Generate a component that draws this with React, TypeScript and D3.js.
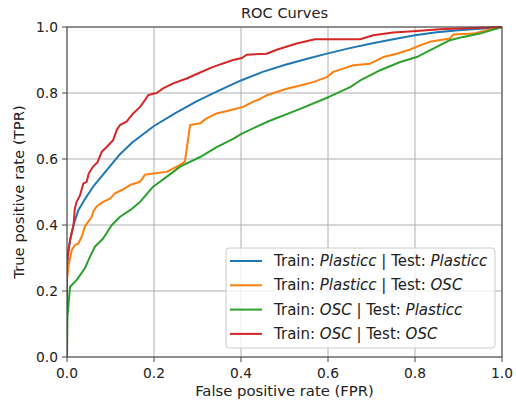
import React from 'react';
import * as d3 from 'd3';

// ROC points: [fpr, tpr]
const plasticcPlasticc: [number, number][] = [
  [0, 0], [0, 0.28], [0.004, 0.33], [0.008, 0.36], [0.015, 0.40], [0.026, 0.445], [0.04, 0.476],
  [0.06, 0.516], [0.08, 0.548], [0.1, 0.58], [0.12, 0.612], [0.15, 0.65], [0.2, 0.70],
  [0.25, 0.74], [0.3, 0.776], [0.35, 0.808], [0.4, 0.838], [0.45, 0.864], [0.5, 0.885],
  [0.55, 0.903], [0.6, 0.92], [0.65, 0.936], [0.7, 0.95], [0.75, 0.963], [0.8, 0.975],
  [0.85, 0.984], [0.9, 0.99], [0.95, 0.995], [1, 1]
];

const plasticcOsc: [number, number][] = [
  [0, 0], [0, 0.233], [0.003, 0.274], [0.011, 0.324], [0.018, 0.339], [0.026, 0.344],
  [0.034, 0.365], [0.041, 0.395], [0.049, 0.41], [0.057, 0.425], [0.06, 0.44], [0.068, 0.456],
  [0.083, 0.47], [0.099, 0.48], [0.11, 0.496], [0.126, 0.506], [0.145, 0.521], [0.168, 0.531],
  [0.179, 0.552], [0.198, 0.556], [0.229, 0.561], [0.26, 0.582], [0.271, 0.592], [0.283, 0.703],
  [0.306, 0.708], [0.321, 0.723], [0.344, 0.738], [0.375, 0.748], [0.405, 0.758], [0.428, 0.774],
  [0.444, 0.782], [0.459, 0.793], [0.482, 0.803], [0.505, 0.813], [0.536, 0.823], [0.566, 0.833],
  [0.597, 0.848], [0.612, 0.864], [0.635, 0.874], [0.658, 0.884], [0.697, 0.889], [0.727, 0.909],
  [0.758, 0.919], [0.789, 0.932], [0.811, 0.944], [0.834, 0.955], [0.88, 0.965], [0.888, 0.977],
  [0.934, 0.98], [0.965, 0.99], [1, 1]
];

const oscPlasticc: [number, number][] = [
  [0, 0], [0.001, 0.122], [0.007, 0.213], [0.022, 0.233], [0.041, 0.269], [0.053, 0.304],
  [0.064, 0.334], [0.083, 0.359], [0.103, 0.40], [0.122, 0.425], [0.145, 0.445], [0.168, 0.47],
  [0.198, 0.516], [0.229, 0.546], [0.26, 0.577], [0.306, 0.606], [0.344, 0.636], [0.382, 0.661],
  [0.402, 0.677], [0.459, 0.712], [0.536, 0.752], [0.602, 0.788], [0.651, 0.818], [0.674, 0.838],
  [0.72, 0.869], [0.766, 0.894], [0.804, 0.909], [0.834, 0.929], [0.88, 0.96], [0.911, 0.97],
  [0.949, 0.98], [1, 1]
];

const oscOsc: [number, number][] = [
  [0, 0], [0, 0.28], [0.003, 0.32], [0.008, 0.36], [0.015, 0.40], [0.018, 0.45], [0.022, 0.47],
  [0.03, 0.49], [0.0375, 0.526], [0.045, 0.53], [0.05, 0.556], [0.06, 0.577], [0.07, 0.59],
  [0.08, 0.622], [0.09, 0.635], [0.106, 0.657], [0.115, 0.69], [0.122, 0.703], [0.137, 0.713],
  [0.152, 0.738], [0.168, 0.758], [0.18, 0.78], [0.187, 0.794], [0.206, 0.80], [0.221, 0.814],
  [0.244, 0.829], [0.275, 0.844], [0.306, 0.862], [0.336, 0.879], [0.382, 0.90], [0.402, 0.906],
  [0.413, 0.916], [0.459, 0.919], [0.482, 0.931], [0.528, 0.95], [0.57, 0.963], [0.674, 0.963],
  [0.704, 0.975], [0.75, 0.983], [0.804, 0.988], [0.857, 0.993], [0.934, 0.997], [1, 1]
];

const ticks = [0, 0.2, 0.4, 0.6, 0.8, 1.0];
const colors = ['#1f77b4', '#ff7f0e', '#2ca02c', '#d62728'];
const legendParts: [string, string, string, string][] = [
  ['Train: ', 'Plasticc', ' | Test: ', 'Plasticc'],
  ['Train: ', 'Plasticc', ' | Test: ', 'OSC'],
  ['Train: ', 'OSC', ' | Test: ', 'Plasticc'],
  ['Train: ', 'OSC', ' | Test: ', 'OSC'],
];
const series = [plasticcPlasticc, plasticcOsc, oscPlasticc, oscOsc];

const width = 516;
const height = 402;
const margin = { left: 67, right: 14, top: 27, bottom: 45 };
const font = 'DejaVu Sans, sans-serif';

const App = () => {
  const x = d3.scaleLinear().domain([0, 1]).range([margin.left, width - margin.right]);
  const y = d3.scaleLinear().domain([0, 1]).range([height - margin.bottom, margin.top]);
  const line = d3.line<[number, number]>().x(d => x(d[0])).y(d => y(d[1]));
  const x0 = x(0), x1 = x(1), y0 = y(0), y1 = y(1);

  return (
    <svg width={width} height={height} style={{ position: 'absolute', left: 0, top: 0, fontFamily: font }}>
      <rect width={width} height={height} fill="#fff" />
      {ticks.map(t => (
        <g key={'g' + t}>
          <line x1={x(t)} x2={x(t)} y1={y0} y2={y1} stroke="#b0b0b0" strokeWidth={1} />
          <line x1={x0} x2={x1} y1={y(t)} y2={y(t)} stroke="#b0b0b0" strokeWidth={1} />
        </g>
      ))}
      <defs>
        <clipPath id="plot">
          <rect x={x0} y={y1 - 2} width={x1 - x0 + 2} height={y0 - y1 + 2} />
        </clipPath>
      </defs>
      <g clipPath="url(#plot)">
        {series.map((s, i) => (
          <path key={i} d={line(s) || ''} fill="none" stroke={colors[i]} strokeWidth={2} strokeLinejoin="round" />
        ))}
      </g>
      <rect x={x0} y={y1} width={x1 - x0} height={y0 - y1} fill="none" stroke="#444" strokeWidth={1} />
      {ticks.map(t => (
        <g key={'t' + t} fontSize={13.8} fill="#222">
          <line x1={x(t)} x2={x(t)} y1={y0} y2={y0 + 5} stroke="#444" />
          <text x={x(t)} y={y0 + 21} textAnchor="middle">{t.toFixed(1)}</text>
          <line x1={x0 - 5} x2={x0} y1={y(t)} y2={y(t)} stroke="#444" />
          <text x={x0 - 9} y={y(t) + 5} textAnchor="end">{t.toFixed(1)}</text>
        </g>
      ))}
      <text x={(x0 + x1) / 2} y={18} textAnchor="middle" fontSize={14.6} fill="#222">ROC Curves</text>
      <text x={(x0 + x1) / 2} y={396} textAnchor="middle" fontSize={14.8} fill="#222">False positive rate (FPR)</text>
      <text transform={`translate(24, ${(y0 + y1) / 2}) rotate(-90)`} textAnchor="middle" fontSize={14.8} fill="#222">True positive rate (TPR)</text>
      <g>
        <rect x={226} y={248} width={269} height={100} rx={3} fill="#fff" fillOpacity={0.8} stroke="#cccccc" />
        {legendParts.map((p, i) => {
          const ly = 261 + i * 24.3;
          return (
            <g key={'l' + i}>
              <line x1={230} x2={262} y1={ly} y2={ly} stroke={colors[i]} strokeWidth={2} />
              <text x={274} y={ly + 5} fontSize={15} fill="#222">
                <tspan>{p[0]}</tspan>
                <tspan fontStyle="italic">{p[1]}</tspan>
                <tspan>{p[2]}</tspan>
                <tspan fontStyle="italic">{p[3]}</tspan>
              </text>
            </g>
          );
        })}
      </g>
    </svg>
  );
};

export default App;
